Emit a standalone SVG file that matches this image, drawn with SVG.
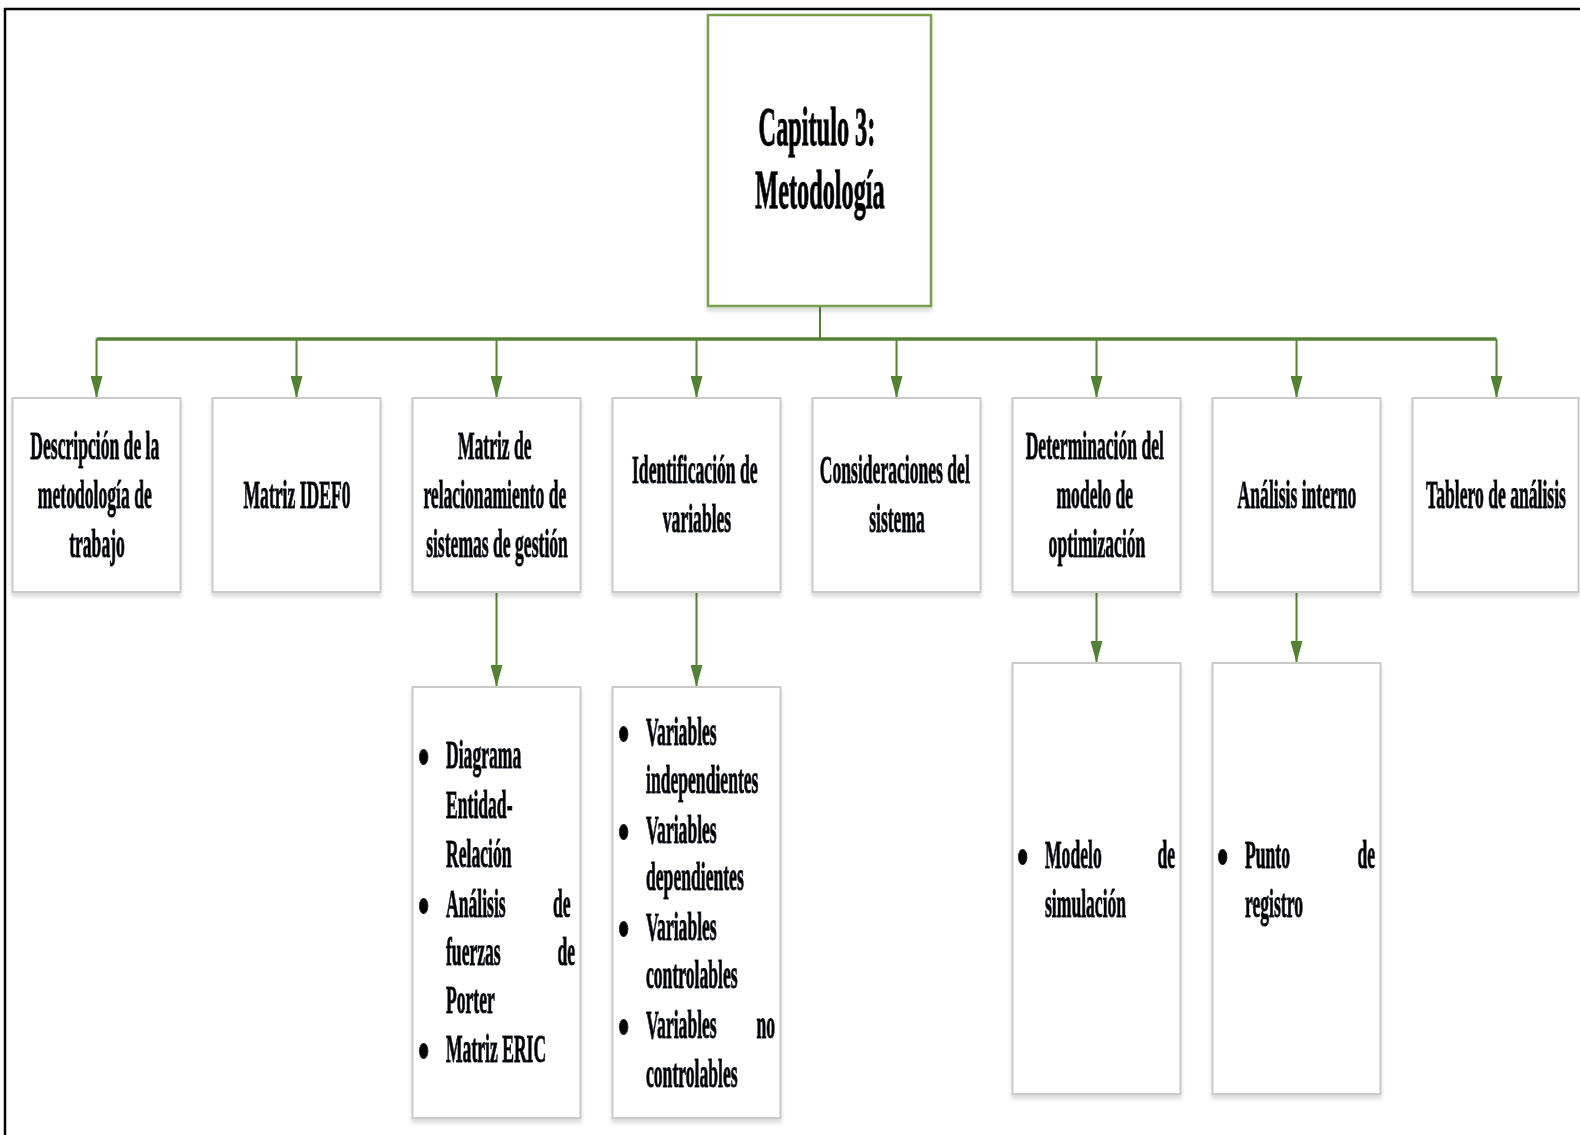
<svg xmlns="http://www.w3.org/2000/svg" width="1580" height="1135" viewBox="0 0 1580 1135">
  <defs>
    <style>
      .frame { stroke: #000; stroke-width: 2.5; fill: none; }
      .box { fill: #fff; stroke: #c9c9c9; stroke-width: 2; filter: url(#boxShadow); }
      .root { fill: #fff; stroke: #76a04c; stroke-width: 2.5; filter: url(#boxShadow); }
      .conn { stroke: #548235; stroke-width: 2; fill: none; }
      .bus { stroke: #548235; stroke-width: 3.5; fill: none; }
      .t { font-family: "Liberation Serif", "Times New Roman", serif; font-weight: bold; font-size: 40px; fill: #000; stroke: #000; stroke-width: 1.1; filter: url(#textShadow); }
      .big { font-size: 54px; stroke-width: 1.3; }
      .b { font-size: 54px; }
      .c { text-anchor: middle; }
      .e { text-anchor: end; }
    </style>
    <marker id="arrow" viewBox="0 0 22 12" refX="22" refY="6" markerWidth="22" markerHeight="12" markerUnits="userSpaceOnUse" orient="auto">
      <path d="M0,0 L22,6 L0,12 z" fill="#548235"/>
    </marker>
    <filter id="boxShadow" x="-5%" y="-5%" width="110%" height="115%">
      <feGaussianBlur in="SourceAlpha" stdDeviation="2"/>
      <feOffset dy="4"/>
      <feComponentTransfer><feFuncA type="linear" slope="0.15"/></feComponentTransfer>
      <feMerge><feMergeNode/><feMergeNode in="SourceGraphic"/></feMerge>
    </filter>
    <filter id="textShadow" x="-10%" y="-30%" width="120%" height="170%">
      <feGaussianBlur in="SourceAlpha" stdDeviation="2.5"/>
      <feOffset dy="5"/>
      <feFlood flood-color="#9db3d8" flood-opacity="0.55"/>
      <feComposite operator="in" in2="SourceAlpha"/>
      <feComposite operator="in"/>
      <feMerge><feMergeNode/><feMergeNode in="SourceGraphic"/></feMerge>
    </filter>
  </defs>

  <rect width="1580" height="1135" fill="#fff"/>

  <!-- outer frame (top and left edges only) -->
  <path class="frame" d="M5,1135 L5,9 L1580,9"/>

  <!-- connectors -->
  <g id="connectors">
    <path class="conn" d="M820,306 L820,339"/>
    <path class="bus" d="M96.5,339 L1496.5,339"/>
    <path class="conn" marker-end="url(#arrow)" d="M96.5,339 L96.5,398"/>
    <path class="conn" marker-end="url(#arrow)" d="M296.5,339 L296.5,398"/>
    <path class="conn" marker-end="url(#arrow)" d="M496.5,339 L496.5,398"/>
    <path class="conn" marker-end="url(#arrow)" d="M696.5,339 L696.5,398"/>
    <path class="conn" marker-end="url(#arrow)" d="M896.5,339 L896.5,398"/>
    <path class="conn" marker-end="url(#arrow)" d="M1096.5,339 L1096.5,398"/>
    <path class="conn" marker-end="url(#arrow)" d="M1296.5,339 L1296.5,398"/>
    <path class="conn" marker-end="url(#arrow)" d="M1496.5,339 L1496.5,398"/>
    <path class="conn" marker-end="url(#arrow)" d="M496.5,592 L496.5,687"/>
    <path class="conn" marker-end="url(#arrow)" d="M696.5,592 L696.5,687"/>
    <path class="conn" marker-end="url(#arrow)" d="M1096.5,592 L1096.5,663"/>
    <path class="conn" marker-end="url(#arrow)" d="M1296.5,592 L1296.5,663"/>
  </g>

  <!-- root -->
  <g id="capitulo">
    <rect class="root" x="708" y="15" width="223" height="291"/>
    <text class="t big c" transform="translate(820,0) scale(0.45,1)">
      <tspan x="0" y="145">Capitulo 3:</tspan>
      <tspan x="0" y="208">Metodología</tspan>
    </text>
  </g>

  <!-- first level -->
  <g id="descripcion">
    <rect class="box" x="12.5" y="398" width="168" height="194"/>
    <text class="t c" transform="translate(97,0) scale(0.44,1)">
      <tspan x="0" y="459">Descripción de la</tspan>
      <tspan x="0" y="508">metodología de</tspan>
      <tspan x="0" y="557">trabajo</tspan>
    </text>
  </g>
  <g id="idef0">
    <rect class="box" x="212.5" y="398" width="168" height="194"/>
    <text class="t c" transform="translate(297,0) scale(0.44,1)">
      <tspan x="0" y="508">Matriz IDEF0</tspan>
    </text>
  </g>
  <g id="matriz-relacionamiento">
    <rect class="box" x="412.5" y="398" width="168" height="194"/>
    <text class="t c" transform="translate(497,0) scale(0.44,1)">
      <tspan x="0" y="459">Matriz de</tspan>
      <tspan x="0" y="508">relacionamiento de</tspan>
      <tspan x="0" y="557">sistemas de gestión</tspan>
    </text>
  </g>
  <g id="identificacion">
    <rect class="box" x="612.5" y="398" width="168" height="194"/>
    <text class="t c" transform="translate(697,0) scale(0.44,1)">
      <tspan x="0" y="483">Identificación de</tspan>
      <tspan x="0" y="532">variables</tspan>
    </text>
  </g>
  <g id="consideraciones">
    <rect class="box" x="812.5" y="398" width="168" height="194"/>
    <text class="t c" transform="translate(897,0) scale(0.44,1)">
      <tspan x="0" y="483">Consideraciones del</tspan>
      <tspan x="0" y="532">sistema</tspan>
    </text>
  </g>
  <g id="determinacion">
    <rect class="box" x="1012.5" y="398" width="168" height="194"/>
    <text class="t c" transform="translate(1097,0) scale(0.44,1)">
      <tspan x="0" y="459">Determinación del</tspan>
      <tspan x="0" y="508">modelo de</tspan>
      <tspan x="0" y="557">optimización</tspan>
    </text>
  </g>
  <g id="analisis-interno">
    <rect class="box" x="1212.5" y="398" width="168" height="194"/>
    <text class="t c" transform="translate(1297,0) scale(0.44,1)">
      <tspan x="0" y="508">Análisis interno</tspan>
    </text>
  </g>
  <g id="tablero">
    <rect class="box" x="1412.5" y="398" width="166" height="194"/>
    <text class="t c" transform="translate(1496,0) scale(0.44,1)">
      <tspan x="0" y="508">Tablero de análisis</tspan>
    </text>
  </g>

  <!-- second level -->
  <g id="lista-matriz">
    <rect class="box" x="412.5" y="687" width="168" height="431"/>
    <text class="t b" transform="translate(418,0) scale(0.6,1)">
      <tspan x="0" y="775">•</tspan>
      <tspan x="0" y="924">•</tspan>
      <tspan x="0" y="1069">•</tspan>
    </text>
    <text class="t" transform="translate(446,0) scale(0.44,1)">
      <tspan x="0" y="768">Diagrama</tspan>
      <tspan x="0" y="818">Entidad-</tspan>
      <tspan x="0" y="867">Relación</tspan>
      <tspan x="0" y="917">Análisis</tspan>
      <tspan x="0" y="965">fuerzas</tspan>
      <tspan x="0" y="1013">Porter</tspan>
      <tspan x="0" y="1062">Matriz ERIC</tspan>
    </text>
    <text class="t e" transform="translate(575,0) scale(0.44,1)">
      <tspan x="0" y="917">de</tspan>
      <tspan x="0" y="965">de</tspan>
    </text>
  </g>
  <g id="lista-variables">
    <rect class="box" x="612.5" y="687" width="168" height="431"/>
    <text class="t b" transform="translate(618,0) scale(0.6,1)">
      <tspan x="0" y="752">•</tspan>
      <tspan x="0" y="850">•</tspan>
      <tspan x="0" y="947">•</tspan>
      <tspan x="0" y="1045">•</tspan>
    </text>
    <text class="t" transform="translate(646,0) scale(0.44,1)">
      <tspan x="0" y="745">Variables</tspan>
      <tspan x="0" y="793">independientes</tspan>
      <tspan x="0" y="843">Variables</tspan>
      <tspan x="0" y="890">dependientes</tspan>
      <tspan x="0" y="940">Variables</tspan>
      <tspan x="0" y="988">controlables</tspan>
      <tspan x="0" y="1038">Variables</tspan>
      <tspan x="0" y="1087">controlables</tspan>
    </text>
    <text class="t e" transform="translate(775,0) scale(0.44,1)">
      <tspan x="0" y="1038">no</tspan>
    </text>
  </g>
  <g id="lista-modelo">
    <rect class="box" x="1012.5" y="663" width="168" height="431"/>
    <text class="t b" transform="translate(1017,0) scale(0.6,1)">
      <tspan x="0" y="875">•</tspan>
    </text>
    <text class="t" transform="translate(1045,0) scale(0.44,1)">
      <tspan x="0" y="868">Modelo</tspan>
      <tspan x="0" y="917">simulación</tspan>
    </text>
    <text class="t e" transform="translate(1175,0) scale(0.44,1)">
      <tspan x="0" y="868">de</tspan>
    </text>
  </g>
  <g id="lista-punto">
    <rect class="box" x="1212.5" y="663" width="168" height="431"/>
    <text class="t b" transform="translate(1217,0) scale(0.6,1)">
      <tspan x="0" y="875">•</tspan>
    </text>
    <text class="t" transform="translate(1245,0) scale(0.44,1)">
      <tspan x="0" y="868">Punto</tspan>
      <tspan x="0" y="917">registro</tspan>
    </text>
    <text class="t e" transform="translate(1375,0) scale(0.44,1)">
      <tspan x="0" y="868">de</tspan>
    </text>
  </g>
</svg>
